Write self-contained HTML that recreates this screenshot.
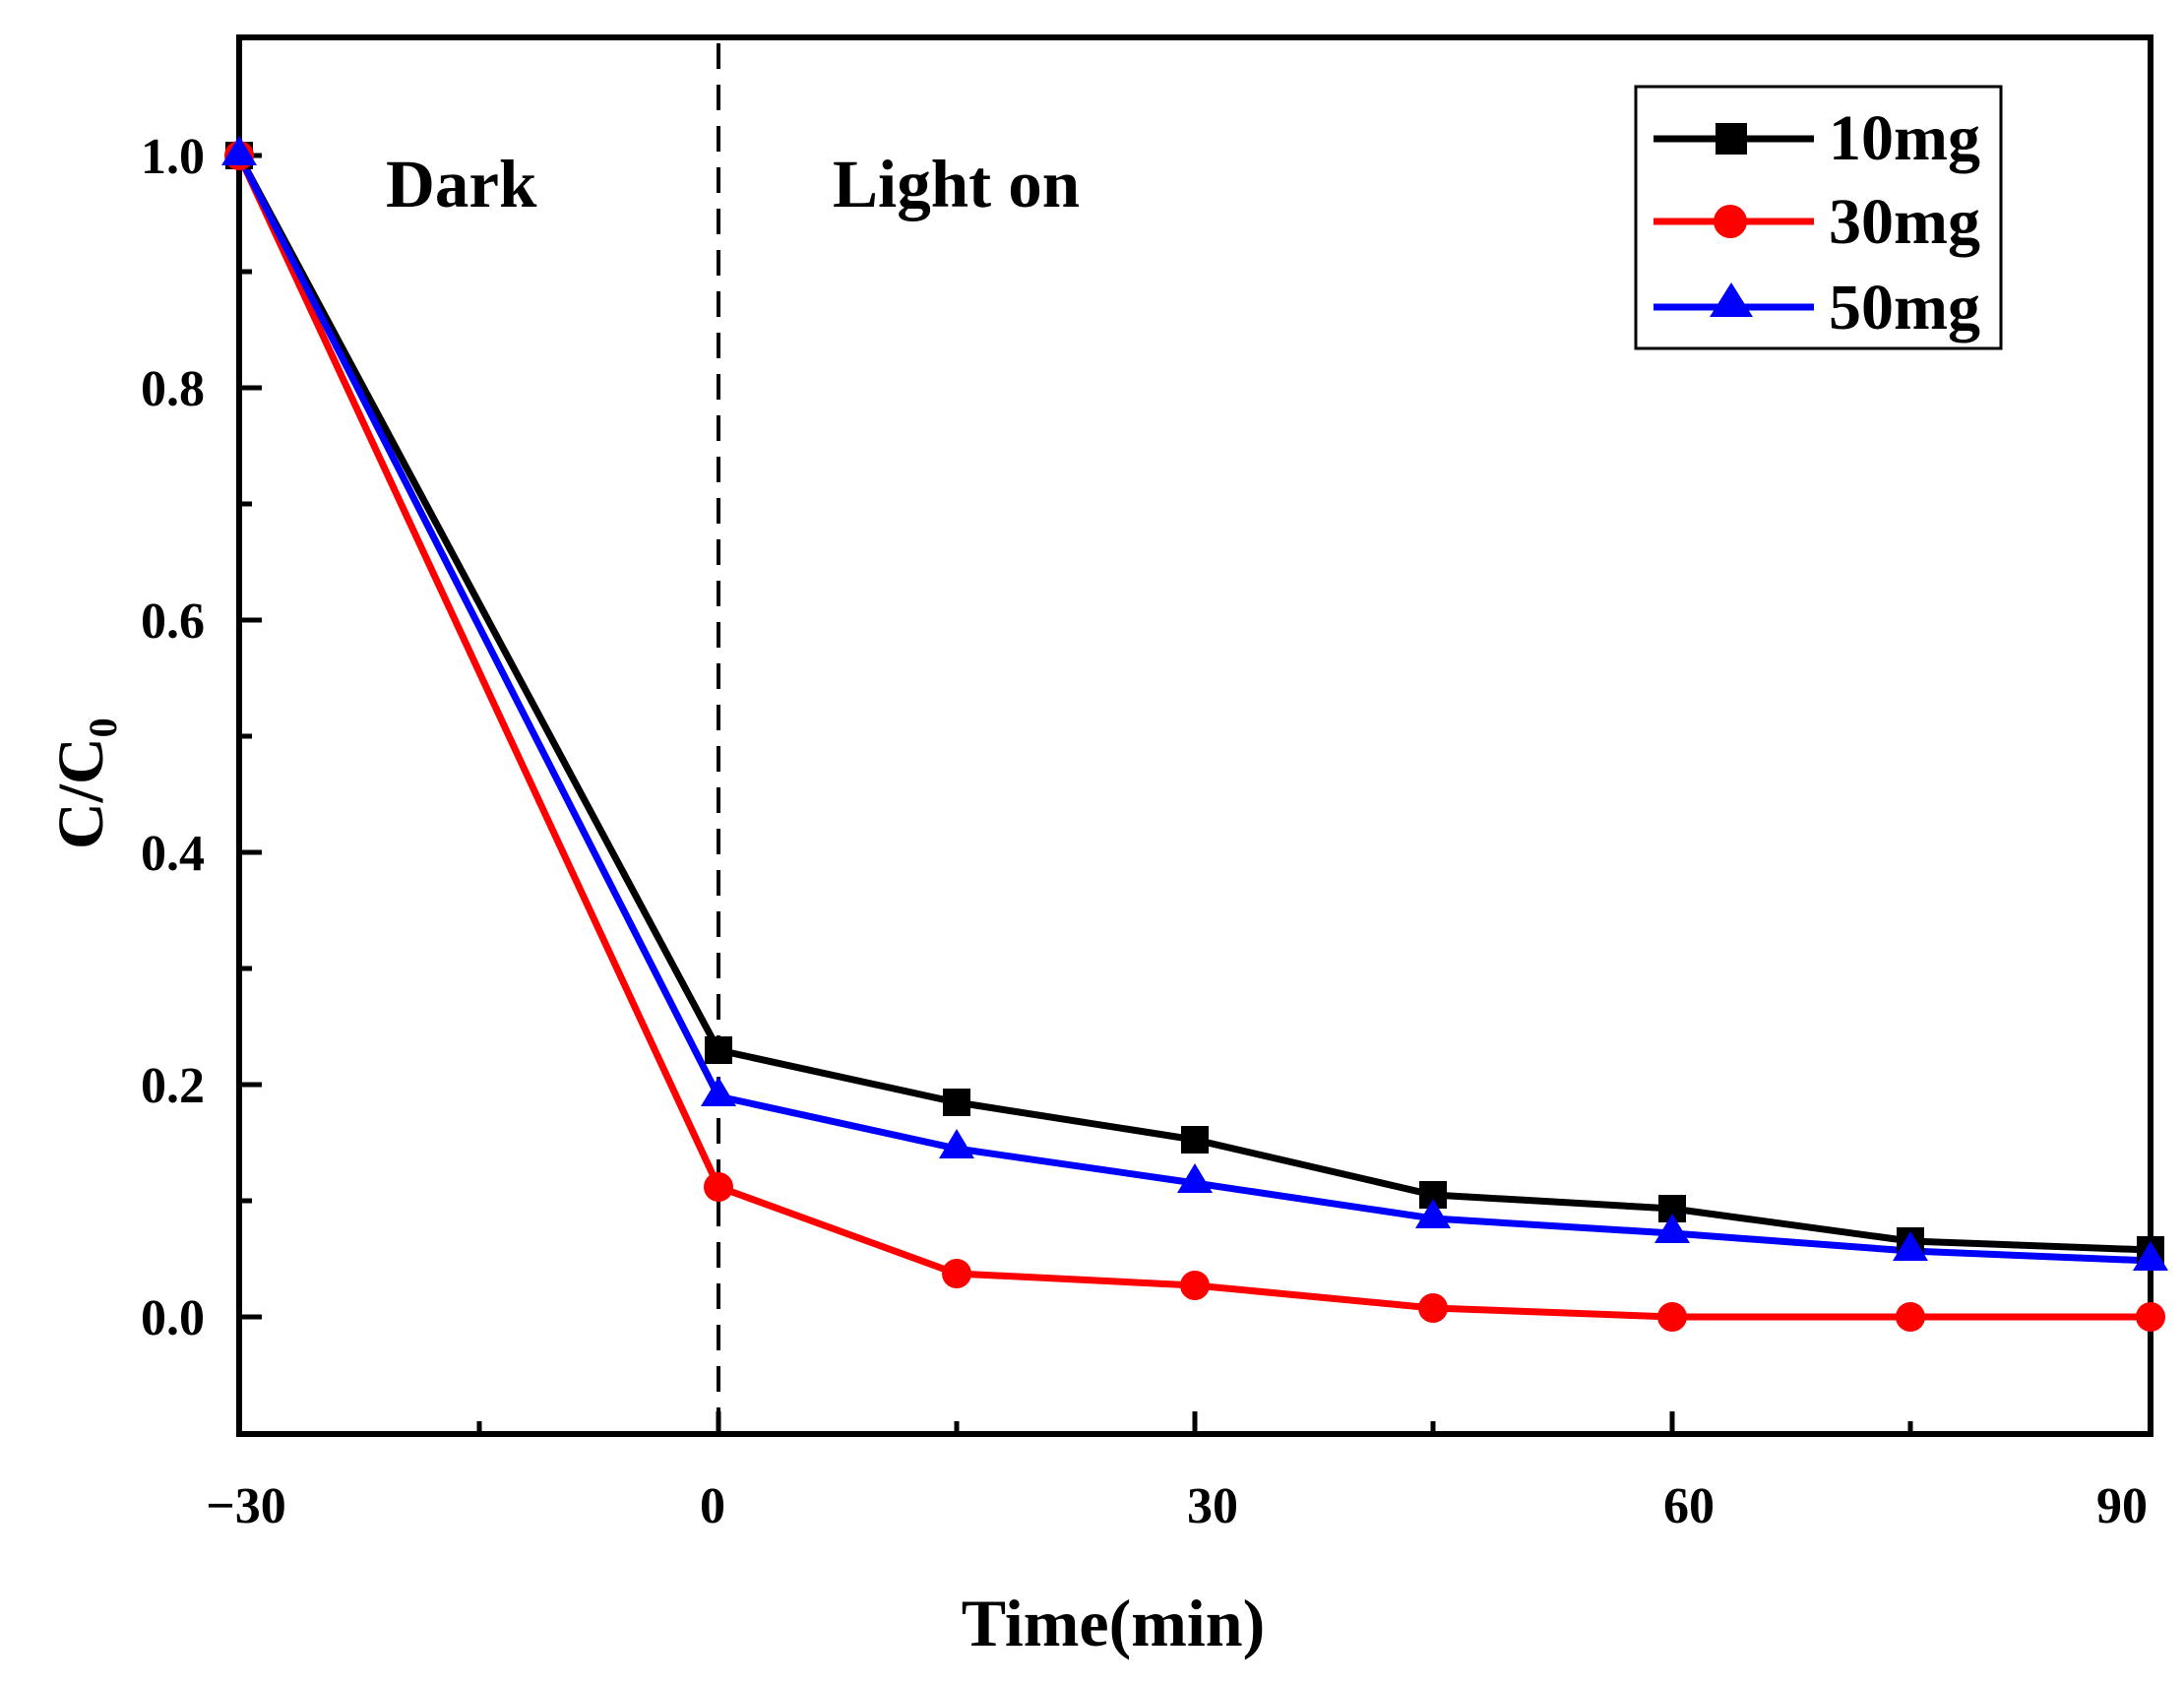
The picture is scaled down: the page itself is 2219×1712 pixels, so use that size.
<!DOCTYPE html>
<html><head><meta charset="utf-8"><style>
html,body{margin:0;padding:0;background:#fff;}
svg{display:block;}
text{font-family:"Liberation Serif",serif;font-weight:bold;fill:#000;}
</style></head><body>
<svg width="2219" height="1712" viewBox="0 0 2219 1712" xmlns="http://www.w3.org/2000/svg">
<rect width="2219" height="1712" fill="#fff"/>
<line x1="730" y1="44" x2="730" y2="1455" stroke="#000" stroke-width="4" stroke-dasharray="26,16"/>
<g stroke="#000" stroke-width="5">
<line x1="243" y1="1338" x2="266" y2="1338"/><line x1="243" y1="1102" x2="266" y2="1102"/>
<line x1="243" y1="866" x2="266" y2="866"/><line x1="243" y1="630" x2="266" y2="630"/>
<line x1="243" y1="394" x2="266" y2="394"/><line x1="243" y1="158" x2="266" y2="158"/>
<line x1="243" y1="1220" x2="256" y2="1220"/><line x1="243" y1="984" x2="256" y2="984"/>
<line x1="243" y1="748" x2="256" y2="748"/><line x1="243" y1="512" x2="256" y2="512"/>
<line x1="243" y1="276" x2="256" y2="276"/>
<line x1="730" y1="1457" x2="730" y2="1434"/><line x1="1214" y1="1457" x2="1214" y2="1434"/>
<line x1="1699" y1="1457" x2="1699" y2="1434"/>
<line x1="487" y1="1457" x2="487" y2="1444"/><line x1="972" y1="1457" x2="972" y2="1444"/>
<line x1="1456" y1="1457" x2="1456" y2="1444"/><line x1="1941" y1="1457" x2="1941" y2="1444"/>
</g>
<rect x="243" y="38" width="1942" height="1419" fill="none" stroke="#000" stroke-width="6"/>
<polyline fill="none" stroke="#000" stroke-width="7" points="243,158 730,1067 972,1120 1214,1158 1456,1214 1699,1228 1941,1261 2185,1270"/>
<polyline fill="none" stroke="#ff0000" stroke-width="7" points="243,158 730,1206 972,1294 1214,1306 1456,1329 1699,1338 1941,1338 2185,1338"/>
<polyline fill="none" stroke="#0000ff" stroke-width="7" points="243,158 730,1114 972,1167 1214,1202 1456,1238 1699,1253 1941,1271 2185,1281"/>
<g fill="#000">
<rect x="229" y="144" width="28" height="28"/><rect x="716" y="1053" width="28" height="28"/><rect x="958" y="1106" width="28" height="28"/><rect x="1200" y="1144" width="28" height="28"/><rect x="1442" y="1200" width="28" height="28"/><rect x="1685" y="1214" width="28" height="28"/><rect x="1927" y="1247" width="28" height="28"/><rect x="2171" y="1256" width="28" height="28"/>
</g>
<g fill="#ff0000">
<circle cx="243" cy="158" r="15"/><circle cx="730" cy="1206" r="15"/><circle cx="972" cy="1294" r="15"/><circle cx="1214" cy="1306" r="15"/><circle cx="1456" cy="1329" r="15"/><circle cx="1699" cy="1338" r="15"/><circle cx="1941" cy="1338" r="15"/><circle cx="2185" cy="1338" r="15"/>
</g>
<g fill="#0000ff">
<polygon points="243,138 261,168 225,168"/><polygon points="730,1094 748,1124 712,1124"/><polygon points="972,1147 990,1177 954,1177"/><polygon points="1214,1182 1232,1212 1196,1212"/><polygon points="1456,1218 1474,1248 1438,1248"/><polygon points="1699,1233 1717,1263 1681,1263"/><polygon points="1941,1251 1959,1281 1923,1281"/><polygon points="2185,1261 2203,1291 2167,1291"/>
</g>
<g font-size="52" text-anchor="end">
<text x="208" y="1356">0.0</text><text x="208" y="1120">0.2</text><text x="208" y="884">0.4</text>
<text x="208" y="648">0.6</text><text x="208" y="412">0.8</text><text x="208" y="176">1.0</text>
</g>
<g font-size="52" text-anchor="middle">
<text x="250" y="1547">−30</text><text x="724" y="1547">0</text><text x="1232" y="1547">30</text>
<text x="1716" y="1547">60</text><text x="2156" y="1547">90</text>
</g>
<text x="1131" y="1672" font-size="68" text-anchor="middle">Time(min)</text>
<text transform="translate(104,863) rotate(-90)" font-size="66">C/C<tspan font-size="40" dy="14">0</tspan></text>
<text x="392" y="210" font-size="69">Dark</text>
<text x="846" y="210" font-size="69">Light on</text>
<rect x="1662" y="88" width="371" height="266" fill="#fff" stroke="#000" stroke-width="3"/>
<line x1="1680" y1="141" x2="1843" y2="141" stroke="#000" stroke-width="7"/>
<rect x="1743" y="125" width="32" height="32" fill="#000"/>
<line x1="1680" y1="225" x2="1843" y2="225" stroke="#ff0000" stroke-width="7"/>
<circle cx="1758" cy="225" r="17" fill="#ff0000"/>
<line x1="1680" y1="312" x2="1843" y2="312" stroke="#0000ff" stroke-width="7"/>
<polygon points="1759,287 1781,322 1737,322" fill="#0000ff"/>
<g font-size="66">
<text x="1858" y="162">10mg</text><text x="1858" y="247">30mg</text><text x="1858" y="334">50mg</text>
</g>
</svg>
</body></html>
